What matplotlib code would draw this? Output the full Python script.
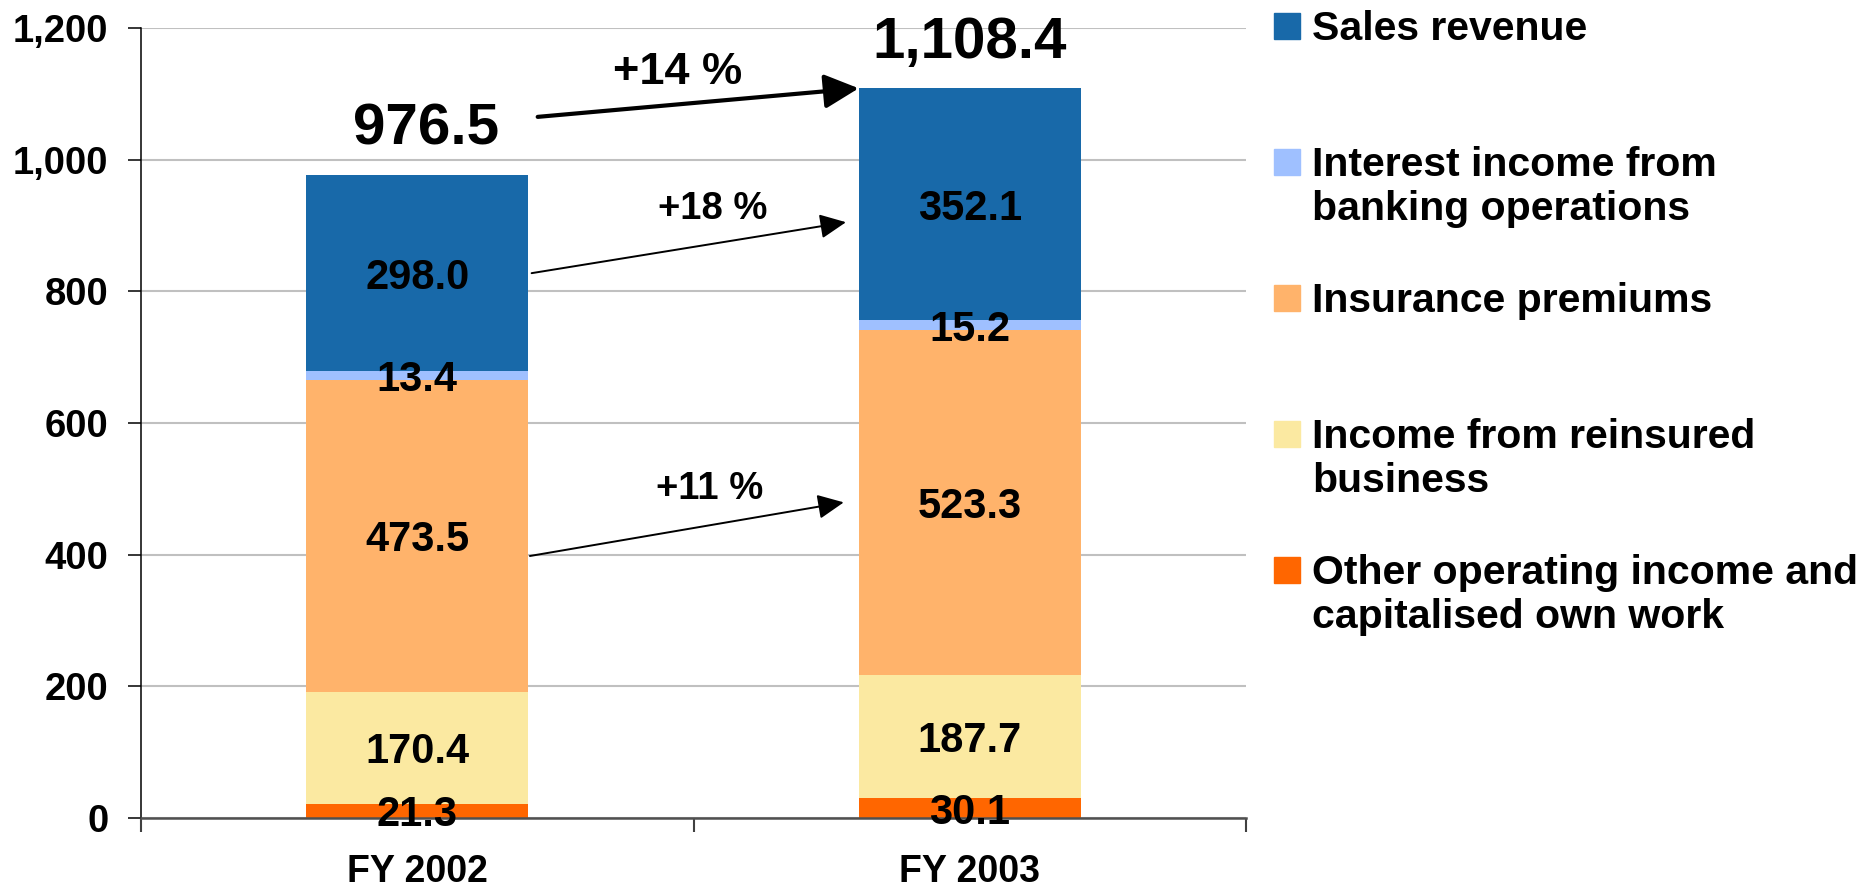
import matplotlib.pyplot as plt
from matplotlib.patches import Rectangle
from matplotlib.ticker import FuncFormatter

categories = ['FY 2002', 'FY 2003']
other_income = [21.3, 30.1]
reinsured = [170.4, 187.7]
insurance = [473.5, 523.3]
interest = [13.4, 15.2]
sales = [298.0, 352.1]
totals = [976.5, 1108.4]
growth = ['+14 %', '+18 %', '+11 %']

series = [other_income, reinsured, insurance, interest, sales]
colors = ['#FF6600', '#FBE9A1', '#FFB36B', '#9FC0FF', '#1869A9']
legend_labels = ['Sales revenue',
                 'Interest income from\nbanking operations',
                 'Insurance premiums',
                 'Income from reinsured\nbusiness',
                 'Other operating income and\ncapitalised own work']

plt.rcParams['font.family'] = ['Liberation Sans', 'DejaVu Sans']
plt.rcParams['font.weight'] = 'bold'

W, H = 1870, 893
fig = plt.figure(figsize=(W / 100, H / 100), dpi=100)
ax = fig.add_axes([141 / W, 75 / H, 1105 / W, 790 / H])

x = list(range(len(categories)))
bw = 0.402
bottom = [0.0, 0.0]
for vals, c in zip(series, colors):
    ax.bar(x, vals, bw, bottom=bottom, color=c, zorder=2)
    for xi, b, v in zip(x, bottom, vals):
        ax.text(xi, b + v / 2, f'{v:.1f}', ha='center', va='center_baseline',
                fontsize=30, fontweight='bold', zorder=4)
    bottom = [b + v for b, v in zip(bottom, vals)]

# totals above bars
for xi, t, dx in zip(x, totals, [6, 0]):
    ax.annotate(f'{t:,.1f}', (xi, t), xytext=(dx, 22), textcoords='offset points',
                ha='center', va='baseline', fontsize=42, fontweight='bold')

# growth arrows
left_edge = 1 - bw / 2
right_edge = bw / 2 + 0.017
ax.annotate('', xy=(left_edge, totals[1]), xytext=(right_edge, 1065),
            arrowprops=dict(arrowstyle='-|>,head_length=21,head_width=10.5',
                            mutation_scale=1, lw=3, color='black',
                            shrinkA=0, shrinkB=0))
ax.text(0.472, 1115, growth[0], ha='center', va='baseline', fontsize=32.5)

sales_mid = [o + r + i + n + s / 2 for o, r, i, n, s in zip(*series)]
ins_mid = [o + r + i / 2 for o, r, i in zip(other_income, reinsured, insurance)]
ax.annotate('', xy=(0.776, 905), xytext=(0.207, sales_mid[0]),
            arrowprops=dict(arrowstyle='-|>,head_length=16,head_width=7.5',
                            mutation_scale=1, lw=1.4, color='black',
                            shrinkA=0, shrinkB=0))
ax.text(0.535, 910, growth[1], ha='center', va='baseline', fontsize=27.5)
ax.annotate('', xy=(0.772, ins_mid[1]), xytext=(0.204, 398),
            arrowprops=dict(arrowstyle='-|>,head_length=16,head_width=7.5',
                            mutation_scale=1, lw=1.4, color='black',
                            shrinkA=0, shrinkB=0))
ax.text(0.530, 485, growth[2], ha='center', va='baseline', fontsize=27.5)

# axes styling
ax.set_xlim(-0.5, 1.5)
ax.set_ylim(0, 1200)
ax.set_xticks(x, categories)
ax.set_xticks([-0.5, 0.5, 1.5], minor=True)
ax.tick_params(axis='x', which='major', length=0, pad=26, labelsize=27)
ax.tick_params(axis='x', which='minor', length=10, width=1.5, color='#404040')
ax.set_yticks(range(0, 1201, 200))
ax.yaxis.set_major_formatter(FuncFormatter(lambda v, p: f'{v:,.0f}'))
ax.tick_params(axis='y', length=9.4, width=1.1, pad=14, labelsize=27.5)
ax.grid(axis='y', color='#C0C0C0', lw=1.5)
ax.set_axisbelow(True)
for s in ['top', 'right']:
    ax.spines[s].set_visible(False)
ax.spines['left'].set_linewidth(1.1)
ax.spines['bottom'].set_color('#505050')
ax.spines['bottom'].set_linewidth(1.8)

# legend drawn by hand so the swatch sits on the first line
for i, (lab, c) in enumerate(zip(legend_labels, colors[::-1])):
    yc = 25.7 + i * 136
    fig.add_artist(Rectangle((1274 / W, 1 - (yc + 13) / H), 26 / W, 26 / H,
                             transform=fig.transFigure, color=c))
    for j, line in enumerate(lab.split('\n')):
        fig.text(1312 / W, 1 - (yc + 14 + j * 44) / H, line,
                 ha='left', va='baseline', fontsize=29.5, fontweight='bold')

fig.savefig('out.png', dpi=100)
